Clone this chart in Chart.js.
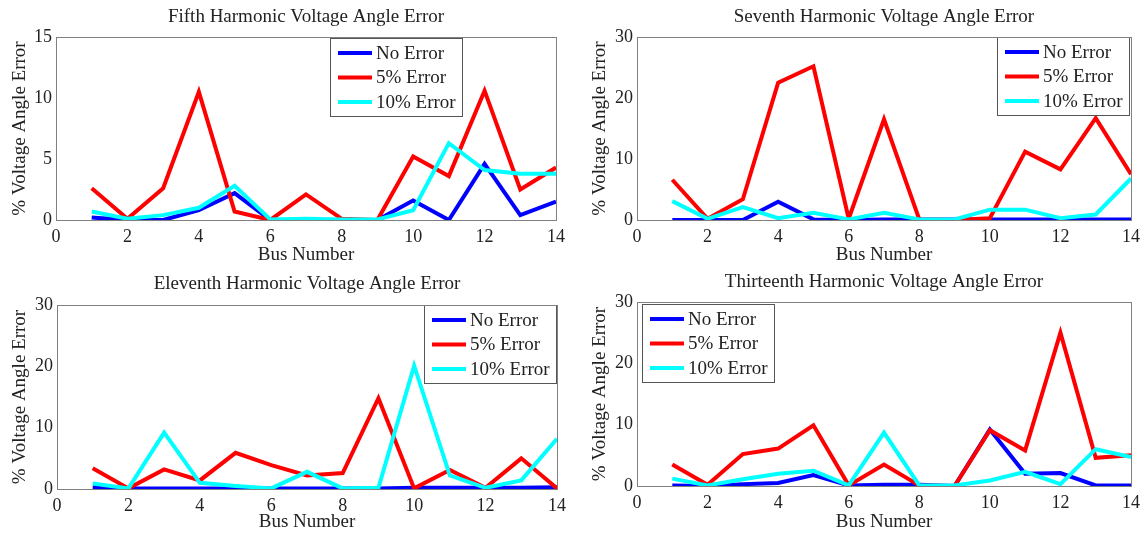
<!DOCTYPE html>
<html>
<head>
<meta charset="utf-8">
<script src="https://cdn.jsdelivr.net/npm/chart.js@4.4.1/dist/chart.umd.min.js"></script>
<style>
  html, body { margin: 0; padding: 0; background: #fff; }
  #wrap { position: relative; width: 1146px; height: 534px; }
  .panel { position: absolute; width: 573px; height: 267px; }
</style>
</head>
<body>
<div id="wrap">
  <div class="panel" style="left:0;top:0"><canvas id="fifth" width="573" height="267"></canvas></div>
  <div class="panel" style="left:573px;top:0"><canvas id="seventh" width="573" height="267"></canvas></div>
  <div class="panel" style="left:0;top:267px"><canvas id="eleventh" width="573" height="267"></canvas></div>
  <div class="panel" style="left:573px;top:267px"><canvas id="thirteenth" width="573" height="267"></canvas></div>
</div>
<script>
// data
var busNumbers = [1, 2, 3, 4, 5, 6, 7, 8, 9, 10, 11, 12, 13, 14];
var seriesNames = ['No Error', '5% Error', '10% Error'];
var seriesColors = ['#0000ff', '#ff0000', '#00ffff'];
var xTicks = [0, 2, 4, 6, 8, 10, 12, 14];

var fifthNoError   = [0.2, 0, 0, 0.8, 2.2, 0, 0, 0, 0, 1.6, 0, 4.6, 0.4, 1.5];
var fifth5pct      = [2.6, 0.1, 2.6, 10.5, 0.7, 0, 2.1, 0.1, 0, 5.2, 3.6, 10.6, 2.5, 4.3];
var fifth10pct     = [0.7, 0.1, 0.4, 1.0, 2.8, 0.05, 0.1, 0.05, 0.05, 0.8, 6.3, 4.1, 3.8, 3.8];

var seventhNoError = [0, 0, 0, 3.0, 0.1, 0, 0.1, 0.1, 0.1, 0.1, 0.1, 0.1, 0.1, 0.1];
var seventh5pct    = [6.6, 0.2, 3.4, 22.5, 25.2, 0.2, 16.5, 0.1, 0, 0.3, 11.2, 8.3, 16.7, 7.5];
var seventh10pct   = [3.1, 0.2, 2.1, 0.3, 1.2, 0.1, 1.2, 0.1, 0.1, 1.7, 1.7, 0.3, 0.9, 6.8];

var eleventhNoError = [0.3, 0.1, 0.1, 0.1, 0.1, 0.1, 0.1, 0.1, 0.1, 0.2, 0.2, 0.2, 0.2, 0.3];
var eleventh5pct    = [3.4, 0.1, 3.2, 1.4, 5.9, 3.9, 2.2, 2.6, 14.8, 0.1, 3.1, 0.2, 5.0, 0.1];
var eleventh10pct   = [0.9, 0.1, 9.2, 1.0, 0.5, 0.1, 2.8, 0.1, 0.2, 20.1, 2.2, 0.2, 1.4, 8.2];

var thirteenthNoError = [0.1, 0, 0.3, 0.5, 1.8, 0.1, 0.2, 0.2, 0, 9.2, 2.0, 2.1, 0.1, 0.1];
var thirteenth5pct    = [3.5, 0.2, 5.2, 6.1, 9.9, 0.1, 3.5, 0.1, 0, 9.1, 5.8, 25.0, 4.6, 5.0];
var thirteenth10pct   = [1.2, 0.1, 1.1, 2.0, 2.5, 0.1, 8.7, 0.1, 0.1, 0.9, 2.3, 0.3, 6.0, 4.7];

var serif = '"Liberation Serif", "Times New Roman", serif';
var textColor = '#222';
Chart.defaults.font.family = serif;
Chart.defaults.color = textColor;

// box around the plot area, like a matlab axes
var framePlugin = {
    id: 'frame',
    afterDraw: function (chart) {
        var a = chart.chartArea, ctx = chart.ctx;
        ctx.save();
        ctx.strokeStyle = '#808080';
        ctx.lineWidth = 1;
        ctx.strokeRect(Math.round(a.left) + 0.5, Math.round(a.top) + 0.5,
            Math.round(a.right - a.left), Math.round(a.bottom - a.top));
        ctx.restore();
    }
};

// legend sitting inside the axes with a border
var boxLegendPlugin = {
    id: 'boxLegend',
    afterDatasetsDraw: function (chart, args, opts) {
        var ctx = chart.ctx, a = chart.chartArea;
        var w = 132, h = 78;
        var x = opts.side === 'left' ? a.left + opts.dx : a.right - opts.dx - w;
        var y = a.top + opts.dy;
        ctx.save();
        ctx.fillStyle = '#fff';
        ctx.fillRect(x, y, w, h);
        ctx.strokeStyle = '#555';
        ctx.lineWidth = 1;
        ctx.strokeRect(Math.round(x) + 0.5, Math.round(y) + 0.5, w, h);
        ctx.font = '19px ' + serif;
        ctx.textBaseline = 'middle';
        chart.data.datasets.forEach(function (ds, i) {
            var cy = y + 15 + i * 24.5;
            ctx.strokeStyle = ds.borderColor;
            ctx.lineWidth = 4;
            ctx.beginPath();
            ctx.moveTo(x + 8, cy);
            ctx.lineTo(x + 42, cy);
            ctx.stroke();
            ctx.fillStyle = textColor;
            ctx.fillText(ds.label, x + 46, cy + 1);
        });
        ctx.restore();
    }
};

function makeChart(id, title, yMax, yStep, values, legendAt, box) {
    var datasets = seriesNames.map(function (name, i) {
        return {
            label: name,
            data: busNumbers.map(function (b, k) { return { x: b, y: values[i][k] }; }),
            borderColor: seriesColors[i],
            backgroundColor: seriesColors[i],
            borderWidth: 4,
            pointRadius: 0,
            tension: 0,
            order: 3 - i
        };
    });
    new Chart(document.getElementById(id), {
        type: 'line',
        data: { datasets: datasets },
        options: {
            responsive: false,
            animation: false,
            layout: { padding: { left: 0, right: box.right, top: 0, bottom: 0 } },
            plugins: {
                legend: { display: false },
                tooltip: { enabled: false },
                title: {
                    display: true,
                    text: title,
                    fullSize: false,
                    color: textColor,
                    font: { size: 19, weight: 'normal', lineHeight: 1.2 },
                    padding: { top: box.titleTop, bottom: box.titleBottom }
                },
                boxLegend: legendAt
            },
            scales: {
                x: {
                    type: 'linear',
                    min: 0,
                    max: 14,
                    afterBuildTicks: function (s) { s.ticks = xTicks.map(function (v) { return { value: v }; }); },
                    ticks: { font: { size: 18 }, padding: 6, color: textColor, maxRotation: 0 },
                    grid: { display: false, drawTicks: false },
                    border: { display: false },
                    title: { display: true, text: 'Bus Number', font: { size: 19, lineHeight: 1.2 }, padding: { top: 0, bottom: 0.6 }, color: textColor },
                    afterFit: function (s) { s.height = box.xh; }
                },
                y: {
                    min: 0,
                    max: yMax,
                    ticks: { stepSize: yStep, font: { size: 18 }, padding: 4, color: textColor },
                    grid: { display: false, drawTicks: false },
                    border: { display: false },
                    title: { display: true, text: '% Voltage Angle Error', font: { size: 19, lineHeight: 1.2 }, padding: { top: box.yTitle, bottom: 0 }, color: textColor },
                    afterFit: function (s) { s.width = box.yw; }
                }
            }
        },
        plugins: [framePlugin, boxLegendPlugin]
    });
}

makeChart('fifth', 'Fifth Harmonic Voltage Angle Error', 15, 5,
    [fifthNoError, fifth5pct, fifth10pct],
    { side: 'left', dx: 274, dy: 1 },
    { yw: 56, right: 17, titleTop: 5.6, titleBottom: 8.6, xh: 47, yTitle: 8.6 });

makeChart('seventh', 'Seventh Harmonic Voltage Angle Error', 30, 10,
    [seventhNoError, seventh5pct, seventh10pct],
    { side: 'right', dx: 2, dy: 0 },
    { yw: 64, right: 13, titleTop: 5.6, titleBottom: 8.6, xh: 47, yTitle: 15.6 });

makeChart('eleventh', 'Eleventh Harmonic Voltage Angle Error', 30, 10,
    [eleventhNoError, eleventh5pct, eleventh10pct],
    { side: 'right', dx: 1, dy: 0 },
    { yw: 57, right: 16, titleTop: 5.6, titleBottom: 9.6, xh: 45, yTitle: 8.6 });

makeChart('thirteenth', 'Thirteenth Harmonic Voltage Angle Error', 30, 10,
    [thirteenthNoError, thirteenth5pct, thirteenth10pct],
    { side: 'left', dx: 5, dy: 2 },
    { yw: 64, right: 11, titleTop: 3.6, titleBottom: 8.6, xh: 48, yTitle: 15.6 });
</script>
</body>
</html>
